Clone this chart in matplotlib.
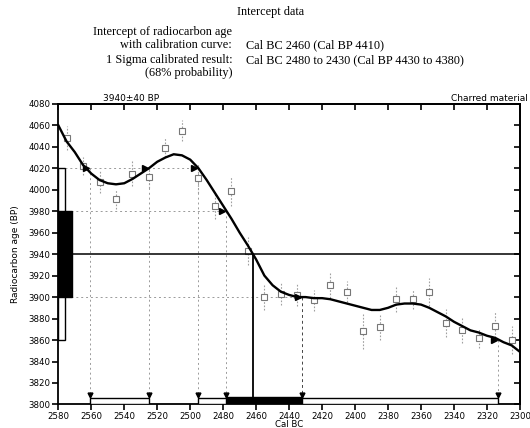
import matplotlib
matplotlib.use('Agg')
import matplotlib.pyplot as plt

# calibration curve (Cal BC, BP)
curve_x = [2580, 2575, 2570, 2565, 2560, 2555, 2550, 2545, 2540, 2535, 2530,
           2525, 2520, 2515, 2510, 2505, 2500, 2495, 2490, 2485, 2480, 2475,
           2470, 2465, 2460, 2455, 2450, 2445, 2440, 2435, 2430, 2425, 2420,
           2415, 2410, 2405, 2400, 2395, 2390, 2385, 2380, 2375, 2370, 2365,
           2360, 2355, 2350, 2345, 2340, 2335, 2330, 2325, 2320, 2315, 2310,
           2305, 2300]
curve_y = [4060, 4045, 4035, 4023, 4015, 4009, 4006, 4005, 4006, 4010, 4015,
           4020, 4026, 4030, 4033, 4032, 4028, 4020, 4009, 3997, 3985, 3973,
           3960, 3948, 3935, 3920, 3911, 3905, 3902, 3900, 3900, 3899, 3899,
           3898, 3896, 3894, 3892, 3890, 3888, 3888, 3890, 3893, 3894, 3894,
           3893, 3890, 3886, 3882, 3877, 3873, 3869, 3867, 3864, 3862, 3858,
           3855, 3849]

# decadal measurements
pts_x = [2575, 2565, 2555, 2545, 2535, 2525, 2515, 2505, 2495, 2485, 2475,
         2465, 2455, 2445, 2435, 2425, 2415, 2405, 2395, 2385, 2375, 2365,
         2355, 2345, 2335, 2325, 2315, 2305]
pts_y = [4048, 4022, 4007, 3991, 4015, 4012, 4039, 4055, 4011, 3985, 3999,
         3943, 3900, 3903, 3902, 3897, 3911, 3905, 3868, 3872, 3898, 3898,
         3905, 3876, 3869, 3862, 3873, 3860]
pts_err = [11, 8, 10, 9, 12, 10, 9, 10, 14, 12, 14,
           13, 12, 10, 10, 10, 12, 10, 16, 12, 12, 9,
           13, 13, 12, 9, 14, 13]

sample_age = 3940
sample_err = 40
intercept = 2462
sig1 = (2478, 2432)
sig2 = [(2561, 2525), (2495, 2313)]
cross_pts = [(2561, 4020), (2525, 4020), (2495, 4020), (2478, 3980),
             (2432, 3900), (2313, 3860)]

fig = plt.figure(figsize=(5.3, 4.28), dpi=100)
ax = fig.add_axes([0.110, 0.055, 0.871, 0.7025])

ax.set_xlim(2580, 2300)
ax.set_ylim(3800, 4080)

# dotted guide lines
gc = '#9a9a9a'
ax.plot([2576, 2495], [4020, 4020], ls=(0, (2, 3)), color=gc, lw=0.7)
ax.plot([2572, 2478], [3980, 3980], ls=(0, (2, 3)), color=gc, lw=0.7)
ax.plot([2572, 2432], [3900, 3900], ls=(0, (2, 3)), color=gc, lw=0.7)
for cx, cy in cross_pts:
    ls = (0, (3, 3)) if cx == 2432 else (0, (2, 3))
    col = '#444444' if cx == 2432 else gc
    ax.plot([cx, cx], [cy, 3807], ls=ls, color=col, lw=0.7)

# measurements
eb = ax.errorbar(pts_x, pts_y, yerr=pts_err, fmt='s', ms=4.5, mfc='white',
                 mec='#777777', mew=0.8, ecolor='#a0a0a0', elinewidth=0.8,
                 capsize=0, zorder=3, ls='none')
eb[2][0].set_linestyle((0, (1.5, 1.5)))

# sample age line and intercept
ax.axhline(sample_age, color='black', lw=1.1, zorder=4)
ax.plot([intercept, intercept], [3800, sample_age], color='black', lw=1.3, zorder=4)

# calibration curve
ax.plot(curve_x, curve_y, color='black', lw=1.7, zorder=5)

# arrow markers at crossings
for cx, cy in cross_pts:
    ax.plot(cx + 2.5, cy, marker='>', color='black', ms=4, zorder=6)
    ax.plot(cx, 3808.5, marker='v', color='black', ms=3.5, zorder=6)

# left probability boxes
ax.bar(2580, 2 * 2 * sample_err, width=-4, bottom=sample_age - 2 * sample_err,
       align='edge', facecolor='white', edgecolor='black', lw=1.0, zorder=4)
ax.bar(2580, 2 * sample_err, width=-8.5, bottom=sample_age - sample_err,
       align='edge', facecolor='black', edgecolor='black', lw=1.0, zorder=4)

# bottom calibrated ranges
for a, b in sig2:
    ax.bar(a, 6, width=b - a, bottom=3800, align='edge', facecolor='white',
           edgecolor='black', lw=1.0, zorder=4)
ax.bar(sig1[0], 6.5, width=sig1[1] - sig1[0], bottom=3800, align='edge',
       facecolor='black', edgecolor='black', lw=1.0, zorder=4)

# ticks
ax.set_xticks(range(2580, 2299, -20))
ax.set_yticks(range(3800, 4081, 20))
ax.tick_params(direction='out', length=4, width=1.2, labelsize=6.2, pad=1.5)
for sp in ax.spines.values():
    sp.set_linewidth(1.3)
top = ax.secondary_xaxis('top')
top.set_xticks(range(2580, 2299, -20))
top.tick_params(direction='in', length=4, width=1.2, labeltop=False)
right = ax.secondary_yaxis('right')
right.set_yticks(range(3800, 4081, 20))
right.tick_params(direction='in', length=4, width=1.2, labelright=False)
for sp in list(top.spines.values()) + list(right.spines.values()):
    sp.set_linewidth(1.3)

ax.set_xlabel('Cal BC', fontsize=6.2, labelpad=-1)
ax.set_ylabel('Radiocarbon age (BP)', fontsize=6.5, labelpad=6)

fig.text(0.194, 0.771, u'3940\u00b140 BP', fontsize=6.5, ha='left', va='center')
fig.text(0.996, 0.771, 'Charred material', fontsize=6.5, ha='right', va='center')

# header block
serif = 'Liberation Serif'
hs = 8.8
fig.text(0.511, 0.972, 'Intercept data', family=serif, fontsize=hs,
         ha='center', va='center')
fig.text(0.438, 0.925, 'Intercept of radiocarbon age', family=serif,
         fontsize=hs, ha='right', va='center')
fig.text(0.438, 0.895, 'with calibration curve:', family=serif,
         fontsize=hs, ha='right', va='center')
fig.text(0.464, 0.895, 'Cal BC 2460 (Cal BP 4410)', family=serif,
         fontsize=hs, ha='left', va='center')
fig.text(0.438, 0.860, '1 Sigma calibrated result:', family=serif,
         fontsize=hs, ha='right', va='center')
fig.text(0.464, 0.860, 'Cal BC 2480 to 2430 (Cal BP 4430 to 4380)',
         family=serif, fontsize=hs, ha='left', va='center')
fig.text(0.438, 0.829, '(68% probability)', family=serif, fontsize=hs,
         ha='right', va='center')

fig.savefig('out.png', dpi=100)
